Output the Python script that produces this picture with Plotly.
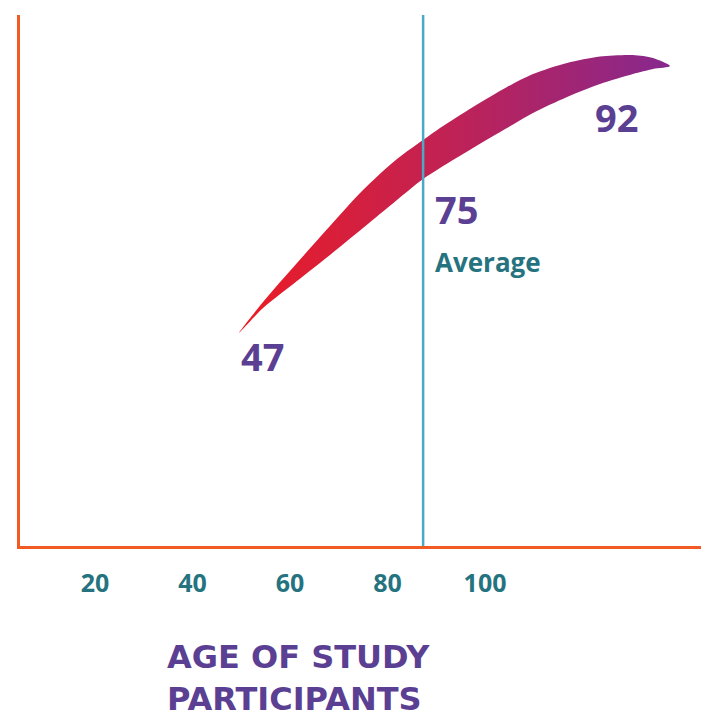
import plotly.graph_objects as go

# ---- data ----
tick_values = [20, 40, 60, 80, 100]
tick_labels = ["20", "40", "60", "80", "100"]

# crescent band: upper edge (left tip -> right tip)
upper_x = [49.53, 54.46, 61.43, 68.20, 74.97, 81.94, 87.28, 90.76, 97.53, 104.51, 109.84, 116.82, 123.58, 130.35, 134.46, 137.94]
upper_y = [40.23, 46.05, 53.38, 60.34, 67.11, 72.93, 76.50, 78.76, 82.71, 86.47, 88.91, 90.98, 92.20, 92.48, 91.92, 90.41]
# lower edge (left tip -> right tip)
lower_x = [49.53, 54.46, 61.43, 68.20, 74.97, 81.94, 87.28, 90.76, 97.53, 104.51, 109.84, 116.82, 123.58, 130.35, 134.46, 137.94]
lower_y = [40.23, 44.92, 50.00, 54.89, 59.96, 65.23, 69.17, 71.24, 75.00, 78.76, 81.58, 84.59, 87.03, 88.91, 89.85, 90.41]

average_x = 87.3

value_labels = ["47", "75", "92"]
value_label_x = [54.3, 89.4, 126.9]
value_label_y = [35.9, 63.5, 80.8]
value_label_anchor = ["center", "left", "center"]

average_label = "Average"
average_label_pos = (89.4, 53.6)

title_text = "AGE OF STUDY<br>PARTICIPANTS"

# ---- styles ----
ORANGE = "#F15A22"
TEAL_LINE = "#4BA9C6"
TEAL_TEXT = "#25737F"
PURPLE = "#5B3F93"
FONT = "Open Sans, Roboto, sans-serif"
TITLE_FONT = "DejaVu Sans, Open Sans, sans-serif"

band_x = upper_x + lower_x[::-1][1:]
band_y = upper_y + lower_y[::-1][1:]

fig = go.Figure()
fig.add_trace(go.Scatter(
    x=band_x, y=band_y, mode="lines", fill="toself",
    line=dict(width=0, color="rgba(0,0,0,0)", shape="spline", smoothing=0.8),
    fillgradient=dict(type="horizontal",
                      colorscale=[[0, "#EC1C24"], [0.5, "#BF2256"], [1, "#86288E"]]),
    hoverinfo="skip", showlegend=False,
))

fig.add_shape(type="line", xref="x", yref="paper", x0=average_x, x1=average_x,
              y0=0, y1=1, line=dict(color=TEAL_LINE, width=2.5), layer="above")

for t, x, y, a in zip(value_labels, value_label_x, value_label_y, value_label_anchor):
    fig.add_annotation(x=x, y=y, xref="x", yref="y", text=t, showarrow=False,
                       xanchor=a, yanchor="middle",
                       font=dict(family=FONT, size=38, color=PURPLE, weight=700))

fig.add_annotation(x=average_label_pos[0], y=average_label_pos[1], xref="x", yref="y",
                   text=average_label, showarrow=False, xanchor="left", yanchor="middle",
                   font=dict(family=FONT, size=26, color=TEAL_TEXT, weight=700))

W, H = 701, 721
L, R, T, B = 20, 0, 15, 175
pw, ph = W - L - R, H - T - B

# title block: left edge at 165 px, top at 636 px
fig.add_annotation(x=(165 - L) / pw, y=(H - B - 636) / ph, xref="paper", yref="paper",
                   text=title_text, showarrow=False, xanchor="left", yanchor="top",
                   align="left",
                   font=dict(family=TITLE_FONT, size=32, color=PURPLE, weight=700))

fig.update_layout(
    width=W, height=H,
    margin=dict(l=L, r=R, t=T, b=B, pad=0),
    paper_bgcolor="white", plot_bgcolor="white",
    xaxis=dict(range=[4.61, 144.3], showline=True, linecolor=ORANGE, linewidth=3,
               showgrid=False, zeroline=False, ticks="",
               tickvals=tick_values, ticktext=tick_labels, ticklabelstandoff=13,
               tickfont=dict(family=FONT, size=25, color=TEAL_TEXT, weight=700),
               fixedrange=True),
    yaxis=dict(range=[0.19, 100], showline=True, linecolor=ORANGE, linewidth=3,
               showgrid=False, zeroline=False, showticklabels=False, ticks="",
               fixedrange=True),
)

fig.write_html("out.html")
